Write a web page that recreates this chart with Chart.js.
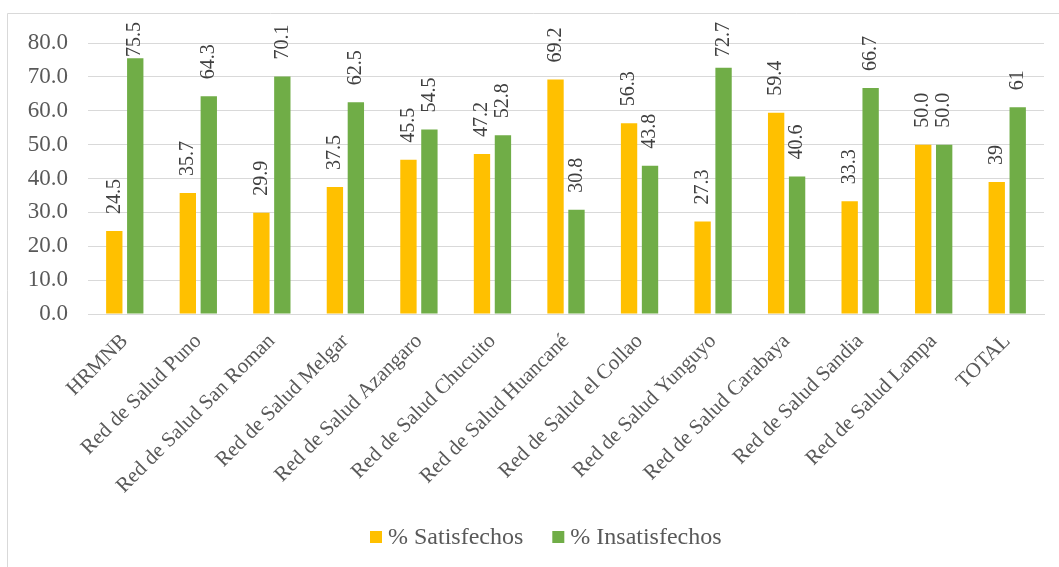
<!DOCTYPE html>
<html><head><meta charset="utf-8">
<script src="https://cdn.jsdelivr.net/npm/chart.js@4.4.0/dist/chart.umd.min.js"></script>
<style>html,body{margin:0;padding:0;background:#fff;}#wrap{width:1059px;height:567px;position:relative;}</style>
</head><body><div id="wrap"><canvas id="c" width="1059" height="567"></canvas></div>
<script>
const categories = ["HRMNB","Red de Salud Puno","Red de Salud San Roman","Red de Salud Melgar","Red de Salud Azangaro","Red de Salud Chucuito","Red de Salud Huancané","Red de Salud el Collao","Red de Salud Yunguyo","Red de Salud Carabaya","Red de Salud Sandia","Red de Salud Lampa","TOTAL"];
const satisfechos = [24.5,35.7,29.9,37.5,45.5,47.2,69.2,56.3,27.3,59.4,33.3,50.0,39];
const insatisfechos = [75.5,64.3,70.1,62.5,54.5,52.8,30.8,43.8,72.7,40.6,66.7,50.0,61];
const satLabels = ["24.5","35.7","29.9","37.5","45.5","47.2","69.2","56.3","27.3","59.4","33.3","50.0","39"];
const insLabels = ["75.5","64.3","70.1","62.5","54.5","52.8","30.8","43.8","72.7","40.6","66.7","50.0","61"];
const yTicks = [0,10,20,30,40,50,60,70,80];

const FONT = "'Liberation Serif','Times New Roman',serif";

const borderPlugin = {
  id:'border',
  beforeDraw(chart){
    const ctx = chart.ctx;
    ctx.save();
    ctx.fillStyle='#fff';ctx.fillRect(0,0,chart.width,chart.height);
    ctx.strokeStyle='#d9d9d9';ctx.lineWidth=1;
    ctx.beginPath();
    ctx.moveTo(7.5,chart.height);ctx.lineTo(7.5,13.5);ctx.lineTo(chart.width,13.5);
    ctx.stroke();
    ctx.restore();
  }
};

const labelPlugin = {
  id:'vlabels',
  afterDatasetsDraw(chart){
    const ctx = chart.ctx;
    ctx.save();
    ctx.font = "20px " + FONT;
    ctx.fillStyle = '#404040';
    ctx.textBaseline = 'middle';
    ctx.textAlign = 'left';
    const lbls = [satLabels, insLabels];
    chart.data.datasets.forEach((ds,di)=>{
      const meta = chart.getDatasetMeta(di);
      meta.data.forEach((bar,i)=>{
        const t = lbls[di][i];
        const w = ctx.measureText(t).width;
        let yb = bar.y - 17;
        if (yb - w < 22) yb = 22 + w;
        ctx.save();
        ctx.translate(bar.x, yb);
        ctx.rotate(-Math.PI/2);
        ctx.fillText(t, 0, 0);
        ctx.restore();
      });
    });
    ctx.restore();
  }
};

const legendPlugin = {
  id:'customLegend',
  afterDraw(chart){
    const ctx = chart.ctx;
    ctx.save();
    ctx.font = "24px " + FONT;
    ctx.textBaseline = 'middle';
    ctx.textAlign = 'left';
    let x = 370;
    const cy = 537;
    chart.data.datasets.forEach(ds=>{
      ctx.fillStyle = ds.backgroundColor;
      ctx.fillRect(x, cy-6, 12, 12);
      x += 18;
      ctx.fillStyle = '#595959';
      ctx.fillText(ds.label, x, cy+1);
      x += ctx.measureText(ds.label).width + 29;
    });
    ctx.restore();
  }
};

new Chart(document.getElementById('c'), {
  type:'bar',
  data:{
    labels: categories,
    datasets:[
      {label:'% Satisfechos', data: satisfechos, backgroundColor:'#FFC000', borderWidth:0, categoryPercentage:0.57, barPercentage:0.78},
      {label:'% Insatisfechos', data: insatisfechos, backgroundColor:'#70AD47', borderWidth:0, categoryPercentage:0.57, barPercentage:0.78}
    ]
  },
  options:{
    responsive:false, animation:false,
    layout:{padding:{left:8,right:15,top:43,bottom:58}},
    plugins:{
      legend:{display:false},
      tooltip:{enabled:false}
    },
    scales:{
      y:{min:0,max:80,
        afterFit(s){s.width=80;},
        afterBuildTicks(s){s.ticks = yTicks.map(v=>({value:v}));},
        ticks:{font:{family:FONT,size:23},color:'#595959',padding:20,callback:v=>v.toFixed(1)},
        grid:{color:'#d9d9d9',drawTicks:false},
        border:{display:false}
      },
      x:{
        afterFit(s){s.height=195;},
        ticks:{font:{family:FONT,size:21},color:'#595959',minRotation:45,maxRotation:45,padding:7},
        grid:{display:false},
        border:{color:'#d9d9d9'}
      }
    }
  },
  plugins:[borderPlugin,labelPlugin,legendPlugin]
});
</script></body></html>
